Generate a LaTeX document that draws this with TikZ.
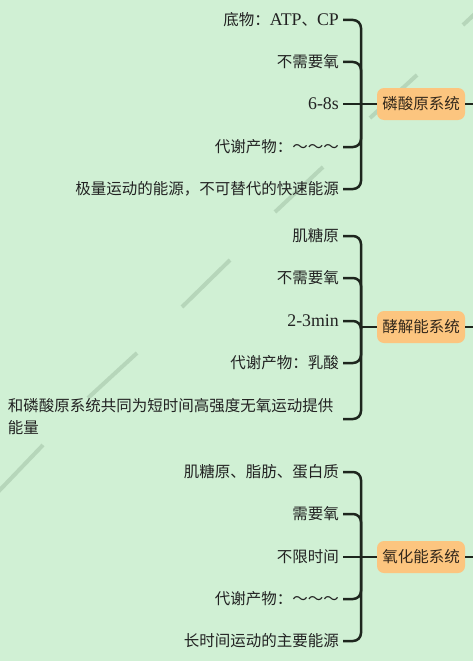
\documentclass[tikz,border=0pt]{standalone}
\usepackage{fontspec}
\setmainfont{Liberation Serif}
\newfontfamily\cjk{Noto Sans CJK SC}
\newcommand{\lat}[1]{{\rmfamily\fontsize{17.8}{22}\selectfont #1}}
\definecolor{bgc}{HTML}{D0F0D4}
\definecolor{wm}{HTML}{B6D6BA}
\definecolor{txt}{HTML}{222222}
\definecolor{linec}{HTML}{1E261E}
\definecolor{nodeorange}{HTML}{FCC57F}
\definecolor{nodetxt}{HTML}{33281C}
\begin{document}
\begin{tikzpicture}[x=1pt,y=-1pt,
  item/.style={anchor=east,inner sep=0pt,text=txt,font=\cjk\fontsize{15.5}{22}\selectfont},
  sys/.style={fill=nodeorange,rounded corners=7pt,minimum width=88pt,minimum height=32pt,inner sep=0pt,text=nodetxt,font=\cjk\fontsize{15.5}{20}\selectfont},
  conn/.style={line width=2.5pt,draw=linec,rounded corners=8pt},
  wmline/.style={line width=4pt,draw=wm}]
\fill[bgc] (0,0) rectangle (473,661);
\useasboundingbox (0,0) rectangle (473,661);
% watermark stripes
\begin{scope}
\clip (0,0) rectangle (473,661);
\draw[wmline] (463,25) -- (480,9);
\draw[wmline] (370,118) -- (417,75);
\draw[wmline] (275,212) -- (323,167);
\draw[wmline] (182,307) -- (230,260);
\draw[wmline] (88,398) -- (137,353);
\draw[wmline] (-3,493) -- (43,445);
\end{scope}
% group 1
\node[sys] (s1) at (421,104) {磷酸原系统};
\coordinate (b1) at (361,104);
\coordinate (e1) at (473,104);
\node[item] (a11) at (339,20) {底物：\lat{ATP}、\lat{CP}};
\node[item] (a12) at (339,62) {不需要氧};
\node[item] (a13) at (339,104) {\lat{6-8s}};
\node[item] (a14) at (339,147) {代谢产物：～～～};
\node[item] (a15) at (339,189) {极量运动的能源，不可替代的快速能源};
\draw[conn] ([xshift=4pt]a11.east) -- (a11.east -| b1) -- (b1);
\draw[conn] ([xshift=4pt]a12.east) -- (a12.east -| b1) -- (b1);
\draw[conn] ([xshift=4pt]a13.east) -- (s1.west);
\draw[conn] ([xshift=4pt]a14.east) -- (a14.east -| b1) -- (b1);
\draw[conn] ([xshift=4pt]a15.east) -- (a15.east -| b1) -- (b1);
\draw[conn] (s1.east) -- (e1);
% group 2
\node[sys] (s2) at (421,327) {酵解能系统};
\coordinate (b2) at (361,327);
\coordinate (e2) at (473,327);
\node[item] (a21) at (339,236) {肌糖原};
\node[item] (a22) at (339,278) {不需要氧};
\node[item] (a23) at (339,321) {\lat{2-3min}};
\node[item] (a24) at (339,363) {代谢产物：乳酸};
\node[item,align=left,text width=331pt,anchor=east] (a25) at (339,417) {和磷酸原系统共同为短时间高强度无氧运动提供\\能量};
\draw[conn] ([xshift=4pt]a21.east) -- (a21.east -| b2) -- (b2);
\draw[conn] ([xshift=4pt]a22.east) -- (a22.east -| b2) -- (b2);
\draw[conn] ([xshift=4pt]a23.east) -- (a23.east -| b2) -- (b2);
\draw[conn] ([xshift=4pt]a24.east) -- (a24.east -| b2) -- (b2);
\draw[conn] ([xshift=4pt,yshift=-2pt]a25.east) -- ([yshift=-2pt]a25.east -| b2) -- (b2);
\draw[conn] (b2) -- (s2.west);
\draw[conn] (s2.east) -- (e2);
% group 3
\node[sys] (s3) at (421,557) {氧化能系统};
\coordinate (b3) at (361,557);
\coordinate (e3) at (473,557);
\node[item] (a31) at (339,472) {肌糖原、脂肪、蛋白质};
\node[item] (a32) at (339,514) {需要氧};
\node[item] (a33) at (339,557) {不限时间};
\node[item] (a34) at (339,599) {代谢产物：～～～};
\node[item] (a35) at (339,641) {长时间运动的主要能源};
\draw[conn] ([xshift=4pt]a31.east) -- (a31.east -| b3) -- (b3);
\draw[conn] ([xshift=4pt]a32.east) -- (a32.east -| b3) -- (b3);
\draw[conn] ([xshift=4pt]a33.east) -- (s3.west);
\draw[conn] ([xshift=4pt]a34.east) -- (a34.east -| b3) -- (b3);
\draw[conn] ([xshift=4pt]a35.east) -- (a35.east -| b3) -- (b3);
\draw[conn] (s3.east) -- (e3);
\end{tikzpicture}
\end{document}
